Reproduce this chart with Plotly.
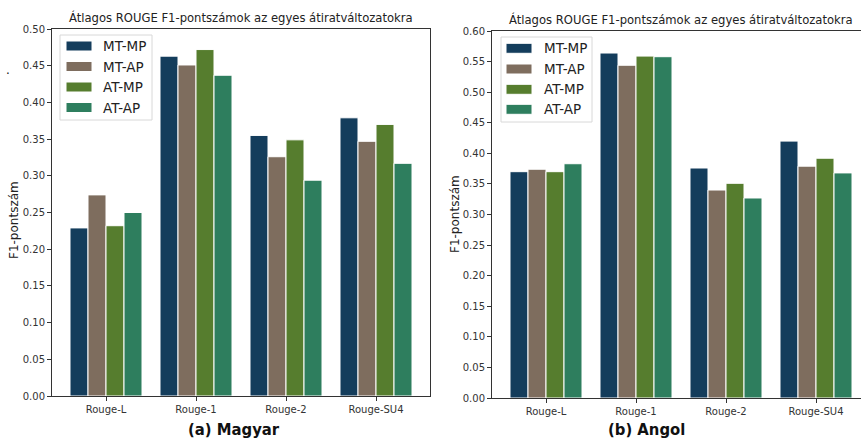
import plotly.graph_objects as go

# ROUGE F1 scores per transcript variant, Hungarian (left) and English (right)
categories = ["Rouge-L", "Rouge-1", "Rouge-2", "Rouge-SU4"]
series_names = ["MT-MP", "MT-AP", "AT-MP", "AT-AP"]
colors = ["#143d5c", "#7e6d5e", "#567d2e", "#2e7e5e"]

magyar_mt_mp = [0.229, 0.463, 0.355, 0.379]
magyar_mt_ap = [0.274, 0.451, 0.326, 0.347]
magyar_at_mp = [0.232, 0.472, 0.349, 0.370]
magyar_at_ap = [0.250, 0.437, 0.294, 0.317]

angol_mt_mp = [0.370, 0.564, 0.376, 0.420]
angol_mt_ap = [0.374, 0.544, 0.340, 0.379]
angol_at_mp = [0.370, 0.559, 0.351, 0.392]
angol_at_ap = [0.383, 0.558, 0.327, 0.368]

magyar = [magyar_mt_mp, magyar_mt_ap, magyar_at_mp, magyar_at_ap]
angol = [angol_mt_mp, angol_mt_ap, angol_at_mp, angol_at_ap]

y_ticks_left = [0.00, 0.05, 0.10, 0.15, 0.20, 0.25, 0.30, 0.35, 0.40, 0.45, 0.50]
y_ticks_right = [0.00, 0.05, 0.10, 0.15, 0.20, 0.25, 0.30, 0.35, 0.40, 0.45, 0.50, 0.55, 0.60]

title_text = "Átlagos ROUGE F1-pontszámok az egyes átiratváltozatokra"
y_title = "F1-pontszám"
captions = ["(a) Magyar", "(b) Angol"]

W, H = 861, 439


def px(x):
    return x / W


def py(y):
    return 1 - y / H


fig = go.Figure()

for name, color, vals in zip(series_names, colors, magyar):
    fig.add_trace(go.Bar(x=categories, y=vals, name=name, marker_color=color,
                         marker_line=dict(color="white", width=1),
                         xaxis="x", yaxis="y", showlegend=False))
for name, color, vals in zip(series_names, colors, angol):
    fig.add_trace(go.Bar(x=categories, y=vals, name=name, marker_color=color,
                         marker_line=dict(color="white", width=1),
                         xaxis="x2", yaxis="y2", showlegend=False))

tick_font = dict(family="DejaVu Sans", size=10, color="#333333")
axis_common = dict(showgrid=False, zeroline=False, showline=True, linecolor="#333333",
                   linewidth=1, ticks="outside", ticklen=4, tickcolor="#333333",
                   tickfont=tick_font, automargin=False)

fig.update_layout(
    template="none",
    width=W, height=H,
    margin=dict(l=0, r=0, t=0, b=0, pad=0),
    paper_bgcolor="white", plot_bgcolor="white",
    showlegend=False,
    barmode="group", bargap=0.2, bargroupgap=0,
    xaxis=dict(domain=[px(52), px(430)], range=[-0.6, 3.6], anchor="y",
               mirror=True, **axis_common),
    yaxis=dict(domain=[py(396), py(29)], range=[0, 0.5], anchor="x",
               tickvals=y_ticks_left, ticktext=[f"{v:.2f}" for v in y_ticks_left],
               mirror=True, **axis_common),
    xaxis2=dict(domain=[px(492), 1.0], range=[-0.6, 3.5], anchor="y2",
                mirror=True, **axis_common),
    yaxis2=dict(domain=[py(398), py(31)], range=[0, 0.6], anchor="x2",
                tickvals=y_ticks_right, ticktext=[f"{v:.2f}" for v in y_ticks_right],
                mirror=False, **axis_common),
)

annotations = []
shapes = []

# panel titles
for cx, ty in [(241, 18), (681, 20)]:
    annotations.append(dict(x=px(cx), y=py(ty), xref="paper", yref="paper", text=title_text,
                            showarrow=False, xanchor="center", yanchor="middle",
                            font=dict(family="DejaVu Sans", size=11.6, color="#222222")))

# rotated y-axis titles
for cx, cy in [(14, 220), (455, 214)]:
    annotations.append(dict(x=px(cx), y=py(cy), xref="paper", yref="paper", text=y_title,
                            showarrow=False, textangle=-90, xanchor="center", yanchor="middle",
                            font=dict(family="DejaVu Sans", size=12, color="#222222")))

# captions below panels
for cx, text in [(234, captions[0]), (646, captions[1])]:
    annotations.append(dict(x=px(cx), y=py(429), xref="paper", yref="paper",
                            text=f"<b>{text}</b>", showarrow=False,
                            xanchor="center", yanchor="middle",
                            font=dict(family="Liberation Sans Narrow, DejaVu Sans Condensed, Roboto Condensed, Liberation Sans",
                                      size=16.5, color="#111111")))

# small stray mark at the left margin
annotations.append(dict(x=px(8), y=py(70), xref="paper", yref="paper", text=".",
                        showarrow=False, xanchor="center", yanchor="middle",
                        font=dict(family="DejaVu Sans", size=12, color="#111111")))

# legend boxes for each panel
legend_specs = [
    dict(box=(60, 35, 152, 120), patch_x=(66, 92), text_x=101, rows=[46, 66.5, 87, 107.5]),
    dict(box=(501, 37, 592, 122), patch_x=(506, 532), text_x=542, rows=[48.3, 69, 89.3, 109.3]),
]
for spec in legend_specs:
    x0, y0, x1, y1 = spec["box"]
    shapes.append(dict(type="rect", xref="paper", yref="paper",
                       x0=px(x0), x1=px(x1), y0=py(y1), y1=py(y0),
                       line=dict(color="#d8d8d8", width=1), fillcolor="rgba(255,255,255,0.85)",
                       layer="above"))
    for name, color, ry in zip(series_names, colors, spec["rows"]):
        shapes.append(dict(type="rect", xref="paper", yref="paper",
                           x0=px(spec["patch_x"][0]), x1=px(spec["patch_x"][1]),
                           y0=py(ry + 5), y1=py(ry - 5),
                           line=dict(color="white", width=1), fillcolor=color, layer="above"))
        annotations.append(dict(x=px(spec["text_x"]), y=py(ry), xref="paper", yref="paper",
                                text=name, showarrow=False, xanchor="left", yanchor="middle",
                                font=dict(family="DejaVu Sans", size=13.5, color="#222222")))

fig.update_layout(annotations=annotations, shapes=shapes)

fig.write_html("out.html")
